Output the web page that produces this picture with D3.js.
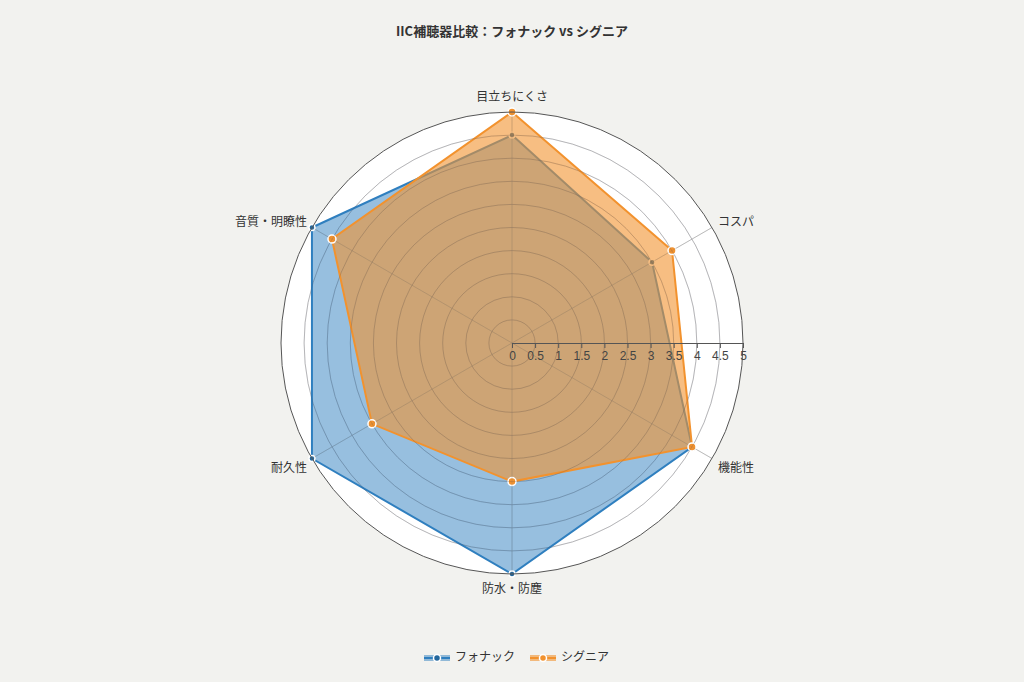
<!DOCTYPE html>
<html>
<head>
<meta charset="utf-8">
<script src="https://cdn.jsdelivr.net/npm/d3@7"></script>
<style>
  body { margin: 0; background: #f2f2ef; font-family: "Noto Sans CJK JP", "Noto Sans", sans-serif; }
  svg { display: block; }
</style>
</head>
<body>
<svg></svg>
<script>
const categories = ["目立ちにくさ", "コスパ", "機能性", "防水・防塵", "耐久性", "音質・明瞭性"]
const phonakValues = [4.5, 3.5, 4.5, 5, 5, 5]
const signiaValues = [5, 4, 4.5, 3, 3.5, 4.5]
const seriesNames = ["フォナック", "シグニア"]
const tickValues = [0, 0.5, 1, 1.5, 2, 2.5, 3, 3.5, 4, 4.5, 5]

let width = 1024
let height = 682
let cx = 512
let cy = 343
let radius = 231

let svg = d3.select("svg").attr("width", width).attr("height", height)

let rScale = d3.scaleLinear().domain([0, 5]).range([0, radius])
let angleScale = d3.scalePoint().domain(categories).range([0, 2 * Math.PI * (categories.length - 1) / categories.length])

let colors = ["#2f7fbf", "#f2922e"]
let markerColors = ["#24679c", "#f2922e"]
let fills = ["rgba(47,127,191,0.5)", "rgba(242,146,46,0.6)"]

let g = svg.append("g").attr("transform", "translate(" + cx + "," + cy + ")")

let pt = (cat, v) => {
    let a = angleScale(cat) - Math.PI / 2
    return [rScale(v) * Math.cos(a), rScale(v) * Math.sin(a)]
}

// plot background
g.append("circle").attr("r", radius).attr("fill", "#ffffff")

// grid rings
g.selectAll(".ring")
    .data(tickValues.slice(1, -1))
    .enter()
    .append("circle")
    .attr("r", d => rScale(d))
    .attr("fill", "none")
    .attr("stroke", "#d0d0d0")
    .attr("stroke-width", 1)

// spokes
g.selectAll(".spoke")
    .data(categories)
    .enter()
    .append("line")
    .attr("x1", 0).attr("y1", 0)
    .attr("x2", d => pt(d, 5)[0])
    .attr("y2", d => pt(d, 5)[1])
    .attr("stroke", "#cccccc")

// series, each with its markers
let allSeries = [phonakValues, signiaValues]
let line = d3.line().curve(d3.curveLinearClosed)

allSeries.forEach((vals, i) => {
    let pts = categories.map((c, j) => pt(c, vals[j]))
    g.append("path")
        .attr("d", line(pts))
        .attr("fill", fills[i])
        .attr("stroke", colors[i])
        .attr("stroke-width", 2)
    g.selectAll(".m" + i)
        .data(vals)
        .enter()
        .append("circle")
        .attr("cx", (d, j) => pt(categories[j], d)[0])
        .attr("cy", (d, j) => pt(categories[j], d)[1])
        .attr("r", i == 0 ? 3 : 4)
        .attr("fill", markerColors[i])
        .attr("stroke", "#fff")
        .attr("stroke-width", 1.5)
})

// spokes and rings again, faint, over fills
g.selectAll(".spoke2")
    .data(categories)
    .enter()
    .append("line")
    .attr("x1", 0).attr("y1", 0)
    .attr("x2", d => pt(d, 5)[0])
    .attr("y2", d => pt(d, 5)[1])
    .attr("stroke", "rgba(120,120,120,0.2)")

g.selectAll(".ring2")
    .data(tickValues.slice(1, -1))
    .enter()
    .append("circle")
    .attr("r", d => rScale(d))
    .attr("fill", "none")
    .attr("stroke", "rgba(60,60,80,0.18)")

// outer circle
g.append("circle").attr("r", radius).attr("fill", "none").attr("stroke", "#555").attr("stroke-width", 1)

// radial axis
let axis = d3.axisBottom(rScale).tickValues(tickValues).tickSize(5).tickFormat(d3.format("~g"))
let ax = g.append("g").call(axis)
ax.select(".domain").attr("stroke", "#555")
ax.selectAll(".tick line").attr("stroke", "#555")
ax.selectAll("text").attr("fill", "#444").style("font-size", "12px").style("font-family", "Liberation Sans, Arial, sans-serif")

// category labels
g.selectAll(".lbl")
    .data(categories)
    .enter()
    .append("text")
    .attr("x", d => {
        let p = pt(d, 5)
        if (Math.abs(p[0]) < 1) return 0
        return p[0] + (p[0] > 0 ? 6 : -5)
    })
    .attr("y", d => {
        let p = pt(d, 5)
        if (Math.abs(p[0]) < 1) return p[1] < 0 ? p[1] - 14 : p[1] + 16
        return p[1] < 0 ? p[1] - 5 : p[1] + 10
    })
    .attr("text-anchor", d => {
        let x = pt(d, 5)[0]
        return Math.abs(x) < 1 ? "middle" : (x > 0 ? "start" : "end")
    })
    .attr("dominant-baseline", "middle")
    .attr("fill", "#333")
    .style("font-size", "12px")
    .text(d => d)

// title
svg.append("text")
    .attr("x", width / 2)
    .attr("y", 36)
    .attr("text-anchor", "middle")
    .attr("fill", "#333")
    .style("font-size", "13px")
    .style("font-weight", "bold")
    .text("IIC補聴器比較：フォナック vs シグニア")

// legend
let legend = svg.append("g").attr("transform", "translate(424, 658)")
let offs = [0, 106]
seriesNames.forEach((name, i) => {
    let lg = legend.append("g").attr("transform", "translate(" + offs[i] + ",0)")
    lg.append("rect").attr("x", 0).attr("y", -3).attr("width", 26).attr("height", 6).attr("fill", fills[i])
    lg.append("line").attr("x1", 0).attr("x2", 26).attr("y1", 0).attr("y2", 0).attr("stroke", colors[i]).attr("stroke-width", 2)
    lg.append("circle").attr("cx", 13).attr("cy", 0).attr("r", 3.5).attr("fill", markerColors[i]).attr("stroke", "#fff").attr("stroke-width", 1.5)
    lg.append("text").attr("x", 31).attr("y", 0).attr("dominant-baseline", "middle")
        .attr("fill", "#333").style("font-size", "12px").text(name)
})
</script>
</body>
</html>
